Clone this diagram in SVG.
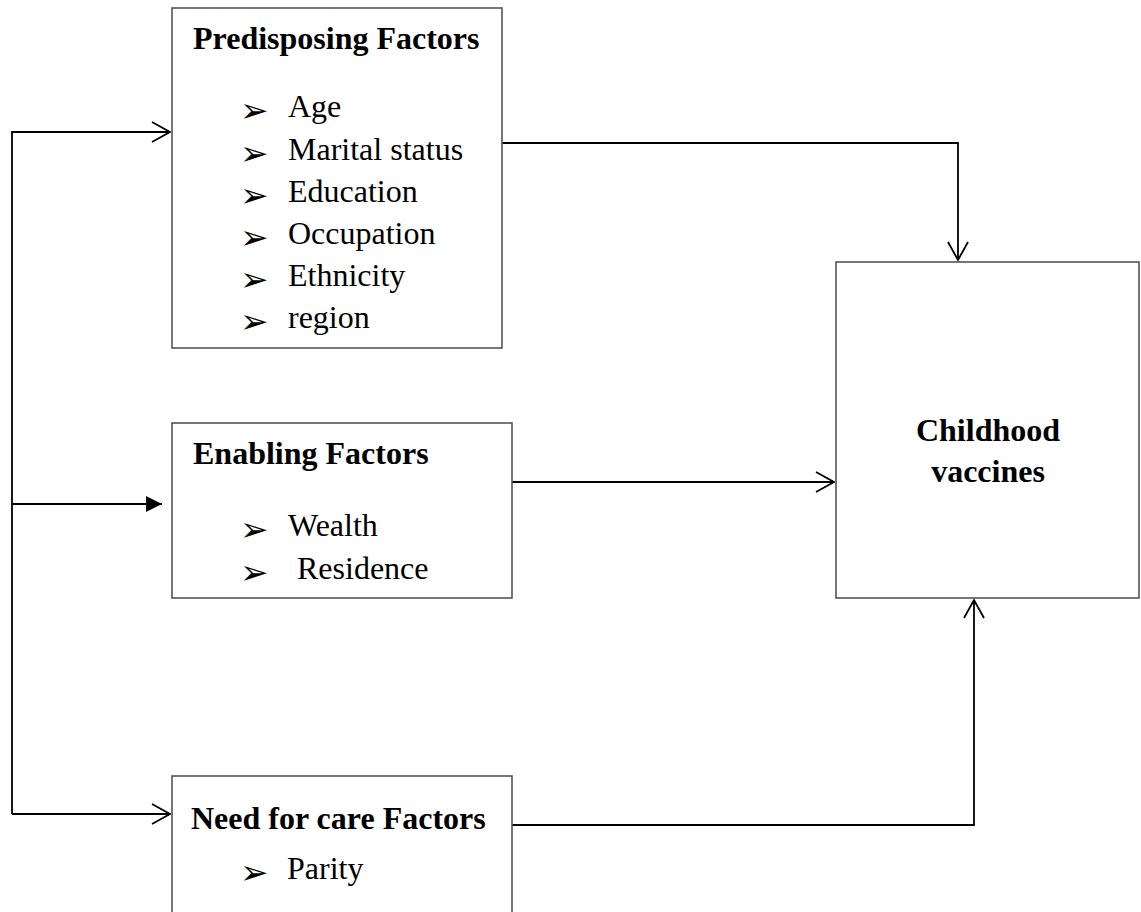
<svg xmlns="http://www.w3.org/2000/svg" width="1141" height="912" viewBox="0 0 1141 912">
<style>
.box{fill:#fff;stroke:#555;stroke-width:1.6}
.title{font-family:"Liberation Serif","Times New Roman",serif;font-weight:bold;font-size:32px;fill:#000}
.item{font-family:"Liberation Serif","Times New Roman",serif;font-size:32px;fill:#000}
.bul{font-family:"DejaVu Sans",sans-serif;font-size:34px;fill:#000}
.conn{fill:none;stroke:#000;stroke-width:1.8}
</style>
<defs>
<marker id="open" markerUnits="userSpaceOnUse" markerWidth="24" markerHeight="24" viewBox="-20 -12 24 24" refX="0" refY="0" orient="auto">
<path d="M-18,-10 L0,0 L-18,10" fill="none" stroke="#000" stroke-width="1.8"/>
</marker>
<marker id="filled" markerUnits="userSpaceOnUse" markerWidth="24" markerHeight="24" viewBox="-20 -12 24 24" refX="0" refY="0" orient="auto">
<path d="M-16,-8 L0,0 L-16,8 Z" fill="#000"/>
</marker>
</defs>
<rect width="1141" height="912" fill="#fff"/>
<g id="connectors">
<path class="conn" d="M12,814 L12,132 L170,132" marker-end="url(#open)"/>
<path class="conn" d="M12,504 L162,504" marker-end="url(#filled)"/>
<path class="conn" d="M12,814 L170,814" marker-end="url(#open)"/>
<path class="conn" d="M502,143 L958,143 L958,260" marker-end="url(#open)"/>
<path class="conn" d="M512,482 L834,482" marker-end="url(#open)"/>
<path class="conn" d="M512,825 L974,825 L974,600" marker-end="url(#open)"/>
</g>
<g id="predisposing">
<rect class="box" x="172" y="8" width="330" height="340"/>
<text class="title" x="193" y="49">Predisposing Factors</text>
<text class="bul" x="240" y="122">➢</text><text class="item" x="288" y="117">Age</text>
<text class="bul" x="240" y="165">➢</text><text class="item" x="288" y="160">Marital status</text>
<text class="bul" x="240" y="207">➢</text><text class="item" x="288" y="202">Education</text>
<text class="bul" x="240" y="249">➢</text><text class="item" x="288" y="244">Occupation</text>
<text class="bul" x="240" y="291">➢</text><text class="item" x="288" y="286">Ethnicity</text>
<text class="bul" x="240" y="333">➢</text><text class="item" x="288" y="328">region</text>
</g>
<g id="enabling">
<rect class="box" x="172" y="423" width="340" height="175"/>
<text class="title" x="193" y="464">Enabling Factors</text>
<text class="bul" x="240" y="541">➢</text><text class="item" x="288" y="536">Wealth</text>
<text class="bul" x="240" y="584">➢</text><text class="item" x="297" y="579">Residence</text>
</g>
<g id="need">
<rect class="box" x="172" y="776" width="340" height="160"/>
<text class="title" x="191" y="829">Need for care Factors</text>
<text class="bul" x="240" y="884">➢</text><text class="item" x="287" y="879">Parity</text>
</g>
<g id="outcome">
<rect class="box" x="836" y="262" width="303" height="336"/>
<text class="title" x="988" y="441" text-anchor="middle">Childhood</text>
<text class="title" x="988" y="482" text-anchor="middle">vaccines</text>
</g>
</svg>
